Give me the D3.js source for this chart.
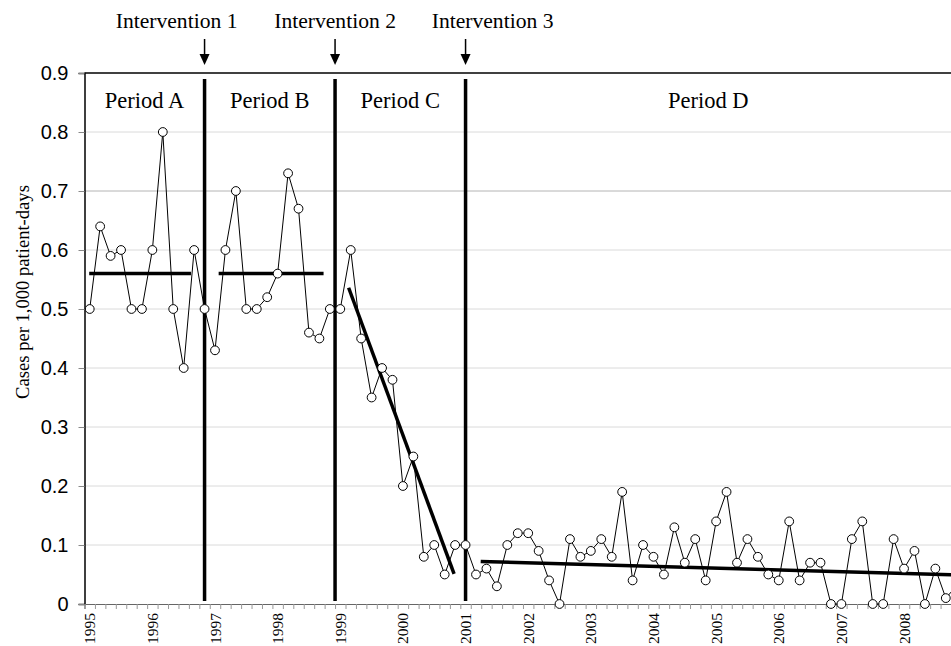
<!DOCTYPE html>
<html>
<head>
<meta charset="utf-8">
<script src="https://cdn.jsdelivr.net/npm/d3@7"></script>
<style>
  body { margin: 0; background: #fff; }
  svg { display: block; }
</style>
</head>
<body>
<svg id="chart" width="951" height="646"></svg>
<script>
// bimonthly rate, first point Jan/Feb 1995
const years = ['1995', '1996', '1997', '1998', '1999', '2000', '2001',
               '2002', '2003', '2004', '2005', '2006', '2007', '2008'];
const rates = [
  0.50, 0.64, 0.59, 0.60, 0.50, 0.50,
  0.60, 0.80, 0.50, 0.40, 0.60, 0.50,
  0.43, 0.60, 0.70, 0.50, 0.50, 0.52,
  0.56, 0.73, 0.67, 0.46, 0.45, 0.50,
  0.50, 0.60, 0.45, 0.35, 0.40, 0.38,
  0.20, 0.25, 0.08, 0.10, 0.05, 0.10,
  0.10, 0.05, 0.06, 0.03, 0.10, 0.12,
  0.12, 0.09, 0.04, 0.00, 0.11, 0.08,
  0.09, 0.11, 0.08, 0.19, 0.04, 0.10,
  0.08, 0.05, 0.13, 0.07, 0.11, 0.04,
  0.14, 0.19, 0.07, 0.11, 0.08, 0.05,
  0.04, 0.14, 0.04, 0.07, 0.07, 0.00,
  0.00, 0.11, 0.14, 0.00, 0.00, 0.11,
  0.06, 0.09, 0.00, 0.06, 0.01, 0.03
];
const yTicks = [0, 0.1, 0.2, 0.3, 0.4, 0.5, 0.6, 0.7, 0.8, 0.9];

// intervention positions (point index) and labels
const interventionAt = [11, 23.5, 36];
const interventionLabels = ['Intervention 1', 'Intervention 2', 'Intervention 3'];
const periodLabels = ['Period A', 'Period B', 'Period C', 'Period D'];

// fitted period lines: [fromIndex, toIndex, fromValue, toValue]
const trends = [
  [-0.05, 9.7, 0.56, 0.56],
  [12.35, 22.4, 0.56, 0.56],
  [24.8, 34.9, 0.536, 0.051],
  [37.45, 83.5, 0.072, 0.049]
];

const svg = d3.select('#chart');
const W = 951;
const plotLeft = 84.5, plotTop = 73, plotBottom = 604;
const step = 10.44;
const plotRight = plotLeft + rates.length * step;
const serif = 'Liberation Serif, Times New Roman, serif';

const x = d3.scaleLinear().domain([-0.5, rates.length - 0.5]).range([plotLeft, plotRight]);
const y = d3.scaleLinear().domain([0, 0.9]).range([plotBottom, plotTop]);

// gridlines
svg.append('g').selectAll('line')
  .data(yTicks.filter(d => d > 0 && d < 0.9))
  .join('line')
    .attr('x1', plotLeft).attr('x2', W)
    .attr('y1', d => y(d)).attr('y2', d => y(d))
    .attr('stroke', d => d === 0.7 ? '#b4b4b4' : '#dadada')
    .attr('stroke-width', 1);

// top border
svg.append('line')
  .attr('x1', plotLeft).attr('x2', W)
  .attr('y1', y(0.9)).attr('y2', y(0.9))
  .attr('stroke', '#000').attr('stroke-width', 1.5);

// y axis
const yAxis = svg.append('g')
  .attr('transform', `translate(${plotLeft},0)`)
  .call(d3.axisLeft(y).tickValues(yTicks).tickSize(6).tickPadding(10)
    .tickFormat(d => d === 0 ? '0' : d3.format('.1f')(d)));
yAxis.select('.domain').attr('stroke', '#000').attr('stroke-width', 1.5);
yAxis.selectAll('.tick line').attr('stroke', '#888');
yAxis.selectAll('text')
  .attr('font-family', 'Liberation Sans, Arial, sans-serif')
  .attr('font-size', 20)
  .attr('fill', '#000');

// x axis: category boundaries as minor ticks
const bounds = d3.range(rates.length + 1).map(i => i - 0.5);
const xAxis = svg.append('g')
  .attr('transform', `translate(0,${plotBottom})`)
  .call(d3.axisBottom(x).tickValues(bounds).tickSize(5).tickFormat(''));
xAxis.select('.domain').attr('stroke', '#666').attr('stroke-width', 1.2);
xAxis.selectAll('.tick line').attr('stroke', '#999');

svg.append('g').selectAll('text')
  .data(years)
  .join('text')
    .attr('transform', (d, i) => `translate(${x(i * 6) + 5.5},${plotBottom + 9}) rotate(-90)`)
    .attr('text-anchor', 'end')
    .attr('font-family', serif)
    .attr('font-size', 15.5)
    .text(d => d);

// y label
svg.append('text')
  .attr('transform', 'translate(29,292) rotate(-90)')
  .attr('text-anchor', 'middle')
  .attr('font-family', serif)
  .attr('font-size', 18.6)
  .text('Cases per 1,000 patient-days');

// data line
svg.append('path')
  .datum(rates)
  .attr('fill', 'none')
  .attr('stroke', '#000')
  .attr('stroke-width', 1)
  .attr('d', d3.line().x((d, i) => x(i)).y(d => y(d)));

// intervention lines
svg.append('g').selectAll('line')
  .data(interventionAt)
  .join('line')
    .attr('x1', d => x(d)).attr('x2', d => x(d))
    .attr('y1', plotTop + 6).attr('y2', plotBottom - 3)
    .attr('stroke', '#000').attr('stroke-width', 3.5);

// period trend lines
svg.append('g').selectAll('line')
  .data(trends)
  .join('line')
    .attr('x1', d => x(d[0])).attr('x2', d => x(d[1]))
    .attr('y1', d => y(d[2])).attr('y2', d => y(d[3]))
    .attr('stroke', '#000').attr('stroke-width', 3.5);

// markers
svg.append('g').selectAll('circle')
  .data(rates)
  .join('circle')
    .attr('cx', (d, i) => x(i))
    .attr('cy', d => y(d))
    .attr('r', 4.4)
    .attr('fill', '#fff')
    .attr('stroke', '#000')
    .attr('stroke-width', 1);

// intervention labels + arrows
const labelShift = [-28, 0, 27];
const ann = svg.append('g').selectAll('g')
  .data(interventionAt)
  .join('g')
    .attr('transform', d => `translate(${x(d)},0)`);
ann.append('text')
  .attr('x', (d, i) => labelShift[i])
  .attr('y', 28)
  .attr('text-anchor', 'middle')
  .attr('font-family', serif)
  .attr('font-size', 21.6)
  .text((d, i) => interventionLabels[i]);
ann.append('line')
  .attr('y1', 39).attr('y2', 56)
  .attr('stroke', '#000').attr('stroke-width', 1.5);
ann.append('path')
  .attr('d', 'M-5,54L5,54L0,65Z')
  .attr('fill', '#000');

// period labels, centred between boundaries
const edges = [plotLeft].concat(interventionAt.map(d => x(d)), [W]);
svg.append('g').selectAll('text')
  .data(periodLabels)
  .join('text')
    .attr('x', (d, i) => (edges[i] + edges[i + 1]) / 2)
    .attr('y', 108)
    .attr('text-anchor', 'middle')
    .attr('font-family', serif)
    .attr('font-size', 22.5)
    .text(d => d);
</script>
</body>
</html>
